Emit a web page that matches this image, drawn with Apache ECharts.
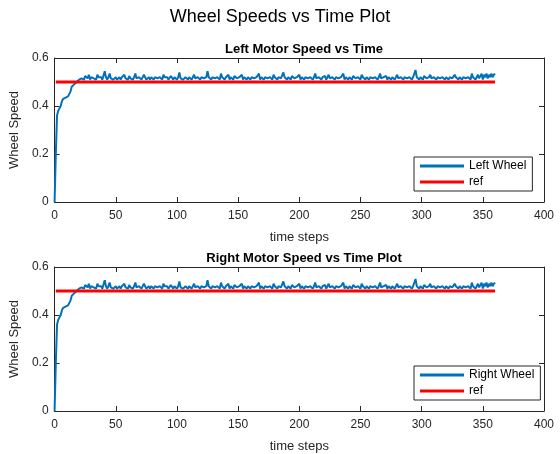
<!DOCTYPE html>
<html>
<head>
<meta charset="utf-8">
<script src="https://cdn.jsdelivr.net/npm/echarts@6/dist/echarts.min.js"></script>
<style>
  html, body { margin: 0; padding: 0; background: #fff; }
  #chart { width: 560px; height: 454px; }
</style>
</head>
<body>
<div id="chart"></div>
<script>
// wheel speed per time step (t = 0..360)
const wheelSpeed = [
  0,0.20,0.36,0.38,0.39,0.40,0.42,0.43,0.43,0.435,0.44,0.44,0.445,0.46,0.48,0.475,0.49,0.49,0.50,0.505,
  0.51,0.51,0.515,0.52,0.51,0.525,0.52,0.515,0.53,0.51,0.52,0.525,0.515,0.52,0.51,0.53,0.52,0.515,0.52,0.51,
  0.515,0.545,0.52,0.51,0.52,0.535,0.515,0.52,0.51,0.515,0.52,0.51,0.515,0.52,0.51,0.52,0.525,0.53,0.515,0.52,
  0.51,0.525,0.515,0.52,0.51,0.52,0.535,0.515,0.51,0.52,0.525,0.51,0.515,0.53,0.52,0.51,0.515,0.52,0.51,0.52,
  0.515,0.51,0.52,0.525,0.515,0.51,0.52,0.515,0.51,0.53,0.52,0.515,0.52,0.51,0.515,0.525,0.52,0.51,0.52,0.515,
  0.51,0.52,0.54,0.515,0.52,0.51,0.515,0.52,0.525,0.51,0.52,0.515,0.51,0.52,0.53,0.515,0.51,0.52,0.515,0.51,
  0.52,0.525,0.515,0.51,0.52,0.545,0.52,0.515,0.51,0.52,0.525,0.515,0.51,0.52,0.515,0.51,0.535,0.52,0.515,0.51,
  0.52,0.515,0.53,0.51,0.52,0.515,0.51,0.525,0.52,0.515,0.51,0.52,0.515,0.53,0.51,0.52,0.515,0.51,0.52,0.515,
  0.51,0.52,0.525,0.515,0.51,0.52,0.515,0.535,0.51,0.52,0.515,0.51,0.52,0.525,0.515,0.51,0.52,0.515,0.51,0.53,
  0.52,0.515,0.51,0.52,0.525,0.515,0.51,0.54,0.52,0.515,0.51,0.52,0.515,0.51,0.525,0.52,0.515,0.51,0.52,0.515,
  0.53,0.51,0.52,0.515,0.51,0.52,0.525,0.515,0.51,0.52,0.515,0.51,0.52,0.535,0.515,0.51,0.52,0.515,0.51,0.52,
  0.515,0.525,0.51,0.52,0.53,0.515,0.51,0.52,0.515,0.51,0.52,0.525,0.515,0.51,0.52,0.515,0.535,0.51,0.52,0.515,
  0.51,0.52,0.515,0.51,0.525,0.52,0.515,0.51,0.52,0.515,0.51,0.53,0.52,0.515,0.51,0.52,0.515,0.51,0.52,0.525,
  0.515,0.51,0.52,0.515,0.51,0.52,0.535,0.515,0.51,0.52,0.515,0.525,0.51,0.52,0.515,0.51,0.52,0.515,0.51,0.52,
  0.53,0.515,0.51,0.52,0.515,0.51,0.52,0.525,0.515,0.51,0.52,0.515,0.51,0.52,0.515,0.55,0.52,0.515,0.51,0.52,
  0.515,0.51,0.525,0.52,0.515,0.51,0.52,0.53,0.515,0.51,0.52,0.515,0.51,0.52,0.525,0.515,0.51,0.52,0.515,0.51,
  0.52,0.515,0.51,0.52,0.525,0.515,0.51,0.53,0.52,0.515,0.51,0.52,0.515,0.51,0.52,0.525,0.515,0.51,0.52,0.515,
  0.51,0.535,0.52,0.515,0.51,0.52,0.53,0.515,0.52,0.535,0.51,0.53,0.52,0.535,0.515,0.53,0.52,0.535,0.52,0.53,
  0.535
];
const refTimes = [1, 360];
const refValues = [0.5, 0.5];
const xTicks = [0, 50, 100, 150, 200, 250, 300, 350, 400];
const yTicks = [0, 0.2, 0.4, 0.6];

const axisColor = '#262626';
const font = 'Liberation Sans, Arial, sans-serif';

const speedPoints = wheelSpeed.map((v, i) => [i, v]);
const refPoints = refTimes.map((t, i) => [t, refValues[i]]);

const grids = [
  { left: 54, right: 16, top: 58, height: 144 },
  { left: 54, right: 16, top: 267, height: 144 }
];

function xAxes(gi) {
  const base = {
    type: 'value', gridIndex: gi, min: xTicks[0], max: xTicks[xTicks.length - 1], interval: 50,
    axisLine: { show: true, onZero: false, lineStyle: { color: axisColor, width: 1 } },
    axisTick: { show: true, inside: true, length: 5, lineStyle: { color: axisColor } },
    splitLine: { show: false }
  };
  return [
    Object.assign({}, base, {
      position: 'bottom',
      name: 'time steps', nameLocation: 'middle', nameGap: 29,
      nameTextStyle: { fontFamily: font, fontSize: 13, color: axisColor },
      axisLabel: { fontFamily: font, fontSize: 12, color: axisColor, margin: 8 }
    }),
    Object.assign({}, base, { position: 'top', axisLabel: { show: false } })
  ];
}

function yAxes(gi) {
  const base = {
    type: 'value', gridIndex: gi, min: yTicks[0], max: yTicks[yTicks.length - 1], interval: 0.2,
    axisLine: { show: true, onZero: false, lineStyle: { color: axisColor, width: 1 } },
    axisTick: { show: true, inside: true, length: 5, lineStyle: { color: axisColor } },
    splitLine: { show: false }
  };
  return [
    Object.assign({}, base, {
      position: 'left',
      name: 'Wheel Speed', nameLocation: 'middle', nameGap: 23,
      nameTextStyle: { fontFamily: font, fontSize: 13, color: axisColor },
      axisLabel: { fontFamily: font, fontSize: 12, color: axisColor, margin: 6,
        formatter: v => (v === 0 ? '0' : v.toFixed(1)) }
    }),
    Object.assign({}, base, { position: 'right', axisLabel: { show: false } })
  ];
}

function legend(top, names) {
  return {
    orient: 'vertical', left: 414, top: top,
    data: names,
    icon: 'rect', itemWidth: 44, itemHeight: 3, itemGap: 4,
    backgroundColor: '#fff', borderColor: axisColor, borderWidth: 1, borderRadius: 0,
    padding: [3, 6, 3, 6],
    textStyle: { fontFamily: font, fontSize: 12, color: '#000' }
  };
}

const chart = echarts.init(document.getElementById('chart'));
chart.setOption({
  animation: false,
  backgroundColor: '#fff',
  title: [
    { text: 'Wheel Speeds vs Time Plot', left: 'center', top: 3,
      textStyle: { fontFamily: font, fontSize: 18, fontWeight: 'normal', color: '#000' } },
    { text: 'Left Motor Speed vs Time', left: 299, top: 38, textAlign: 'center',
      textStyle: { fontFamily: font, fontSize: 13, fontWeight: 'bold', color: '#000' } },
    { text: 'Right Motor Speed vs Time Plot', left: 299, top: 247, textAlign: 'center',
      textStyle: { fontFamily: font, fontSize: 13, fontWeight: 'bold', color: '#000' } }
  ],
  legend: [
    legend(157, ['Left Wheel', 'ref']),
    legend(366, ['Right Wheel', 'ref'])
  ],
  grid: grids,
  xAxis: xAxes(0).concat(xAxes(1)),
  yAxis: yAxes(0).concat(yAxes(1)),
  series: [
    { name: 'Left Wheel', type: 'line', xAxisIndex: 0, yAxisIndex: 0, data: speedPoints,
      showSymbol: false, lineStyle: { color: '#0072BD', width: 2 }, itemStyle: { color: '#0072BD' } },
    { name: 'ref', type: 'line', xAxisIndex: 0, yAxisIndex: 0, data: refPoints,
      showSymbol: false, lineStyle: { color: '#FF0000', width: 3 }, itemStyle: { color: '#FF0000' } },
    { name: 'Right Wheel', type: 'line', xAxisIndex: 2, yAxisIndex: 2, data: speedPoints,
      showSymbol: false, lineStyle: { color: '#0072BD', width: 2 }, itemStyle: { color: '#0072BD' } },
    { name: 'ref', type: 'line', xAxisIndex: 2, yAxisIndex: 2, data: refPoints,
      showSymbol: false, lineStyle: { color: '#FF0000', width: 3 }, itemStyle: { color: '#FF0000' } }
  ]
});
</script>
</body>
</html>
